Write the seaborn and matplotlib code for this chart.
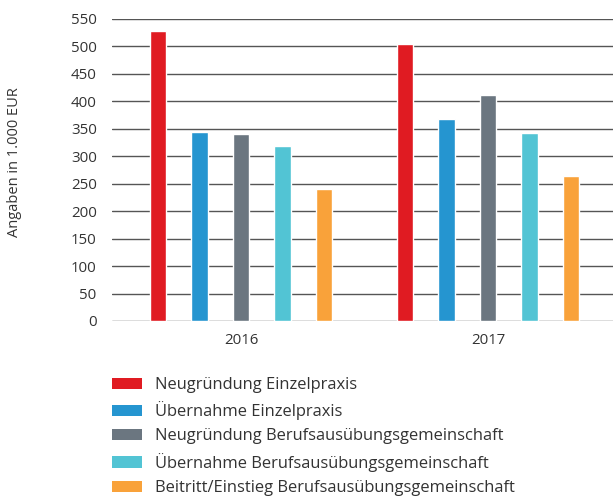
import pandas as pd
import seaborn as sns
import matplotlib.pyplot as plt
from matplotlib.patches import Patch

years = ['2016', '2017']
categories = [
    'Neugründung Einzelpraxis',
    'Übernahme Einzelpraxis',
    'Neugründung Berufsausübungsgemeinschaft',
    'Übernahme Berufsausübungsgemeinschaft',
    'Beitritt/Einstieg Berufsausübungsgemeinschaft',
]
values_2016 = [528, 344, 341, 319, 240]
values_2017 = [505, 368, 412, 342, 264]
colors = ['#e01b22', '#2595d0', '#6b7680', '#52c4d4', '#f9a23a']

rows = []
for year, vals in zip(years, [values_2016, values_2017]):
    for cat, v in zip(categories, vals):
        rows.append({'year': year, 'category': cat, 'value': v})
df = pd.DataFrame(rows)

sns.set_style('white')
plt.rcParams['font.family'] = ['Open Sans', 'DejaVu Sans']
text_color = '#333333'

fig = plt.figure(figsize=(6.13, 5.01), dpi=100)
ax = fig.add_axes([112 / 613, 1 - 321 / 501, 1 - 112 / 613, (321 - 19) / 501])

sns.barplot(
    data=df,
    x='year',
    y='value',
    hue='category',
    hue_order=categories,
    palette=colors,
    width=0.84,
    gap=0.61,
    saturation=1,
    legend=False,
    ax=ax,
    zorder=3,
)

ax.set_ylim(0, 550)
ax.set_yticks(range(0, 551, 50))
ax.set_xlim(-0.522, 1.506)
ax.yaxis.grid(True, color='#555555', linewidth=1.0, zorder=0)
ax.set_axisbelow(True)
for s in ax.spines.values():
    s.set_visible(False)
ax.tick_params(axis='both', length=0, labelsize=10.8, labelcolor=text_color)
ax.tick_params(axis='y', pad=11)
ax.tick_params(axis='x', pad=9)
ax.set_xlabel('')
ax.set_ylabel('')
fig.text(15 / 613, 1 - 162 / 501, 'Angaben in 1.000 EUR', rotation=90,
         ha='center', va='center', fontsize=10.5, color=text_color)

handles = [Patch(facecolor=c, edgecolor='none') for c in colors]
fig.legend(
    handles, categories,
    loc='upper left',
    bbox_to_anchor=(112 / 613, 1 - 377 / 501),
    frameon=False,
    fontsize=11.9,
    labelcolor=text_color,
    handlelength=1.82,
    handleheight=0.67,
    handletextpad=0.8,
    labelspacing=0.5,
    borderaxespad=0,
    borderpad=0,
)

fig.savefig('out.png', dpi=100)
